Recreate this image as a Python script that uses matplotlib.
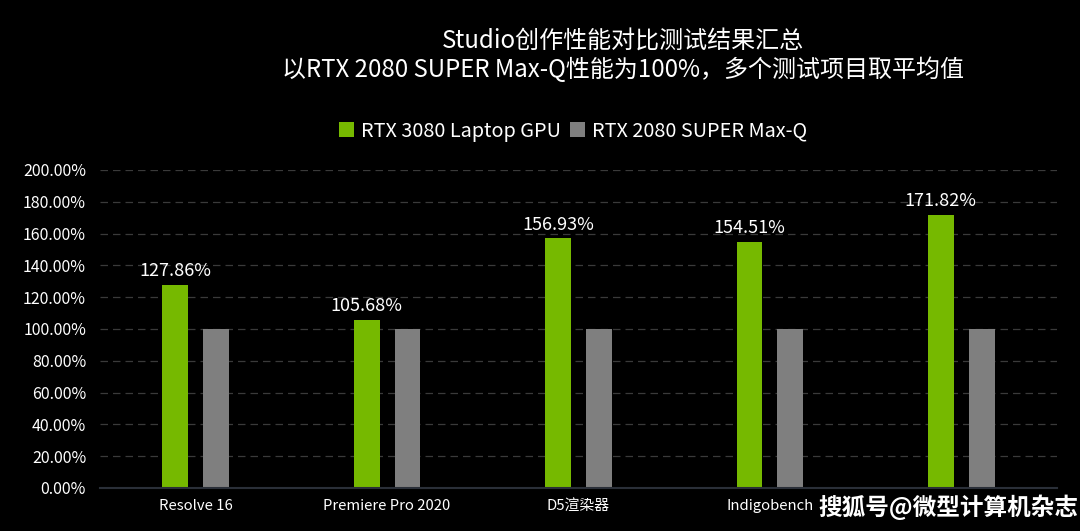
import matplotlib
matplotlib.use("Agg")
import matplotlib.pyplot as plt
import numpy as np

plt.rcParams['font.family'] = ['Noto Sans CJK SC', 'DejaVu Sans']

categories = ['Resolve 16', 'Premiere Pro 2020', 'D5渲染器', 'Indigobench', '']
rtx3080 = [127.86, 105.68, 156.93, 154.51, 171.82]
rtx2080 = [100, 100, 100, 100, 100]
series_names = ['RTX 3080 Laptop GPU', 'RTX 2080 SUPER Max-Q']
green = '#76b900'
grey = '#7f7f7f'

fig = plt.figure(figsize=(10.8, 5.31), dpi=100, facecolor='black')
ax = fig.add_axes([100 / 1080, 0.081, 957 / 1080, 0.599])
ax.set_facecolor('black')

x = np.arange(len(categories))
w = 0.135
b1 = ax.bar(x - 0.107, rtx3080, w, color=green, label=series_names[0])
b2 = ax.bar(x + 0.107, rtx2080, w, color=grey, label=series_names[1])

for xi, v in zip(x, rtx3080):
    ax.text(xi - 0.107, v + 3, f'{v:.2f}%', ha='center', va='bottom',
            color='white', fontsize=13)

ax.set_ylim(0, 200)
ax.set_xlim(-0.5, len(categories) - 0.5)
ax.set_yticks(np.arange(0, 201, 20))
ax.set_yticklabels([f'{t:.2f}%' for t in np.arange(0, 201, 20)])
ax.set_xticks(x)
ax.set_xticklabels(categories)
ax.tick_params(axis='y', colors='white', labelsize=11.5, length=0, pad=10)
ax.tick_params(axis='x', colors='white', labelsize=10.7, length=0, pad=8)
ax.grid(axis='y', color='#3a3a3a', linestyle=(0, (6, 4)), linewidth=0.9)
ax.set_axisbelow(True)
for s in ['top', 'right', 'left']:
    ax.spines[s].set_visible(False)
ax.spines['bottom'].set_color('#2a2f38')
ax.spines['bottom'].set_linewidth(1.5)

fig.text(623 / 1080, 1 - 56 / 531, 'Studio创作性能对比测试结果汇总\n以RTX 2080 SUPER Max-Q性能为100%，多个测试项目取平均值',
         ha='center', va='center', color='white', fontsize=17.3, linespacing=1.1)

leg = fig.legend(handles=[b1, b2], loc='center', bbox_to_anchor=(573 / 1080, 1 - 131 / 531),
                 ncol=2, frameon=False, fontsize=14.3, handlelength=0.75,
                 handleheight=0.75, handletextpad=0.35, columnspacing=0.5)
for t in leg.get_texts():
    t.set_color('white')

fig.text(818 / 1080, 1 - 507 / 531, '搜狐号@微型计算机杂志', color='white', fontsize=17,
         fontweight='bold', ha='left', va='center')

fig.savefig('out.png', dpi=100, facecolor='black')
